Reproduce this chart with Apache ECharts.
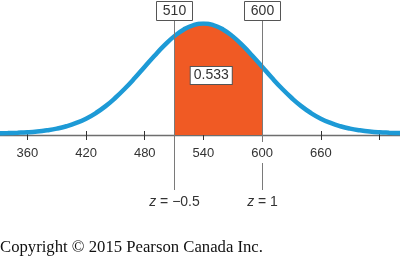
<!DOCTYPE html>
<html>
<head>
<meta charset="utf-8">
<script src="https://cdn.jsdelivr.net/npm/echarts@6/dist/echarts.min.js"></script>
<style>
html,body{margin:0;padding:0;background:#fff;}
#chart{width:400px;height:258px;}
</style>
</head>
<body>
<div id="chart"></div>
<script>
// x values (scores) and relative curve heights
const scores = [300,310,320,330,340,350,360,370,380,390,400,410,420,430,440,450,460,470,480,490,500,510,520,530,540,
                550,560,570,580,590,600,610,620,630,640,650,660,670,680,690,700,710,720,730,740,750,760,770,780];
const heights = [0.000,0.001,0.001,0.002,0.004,0.007,0.011,0.018,0.029,0.044,0.066,0.096,0.135,0.186,0.249,0.325,0.411,0.506,0.607,0.707,0.801,0.883,0.946,0.986,1.000,
                 0.986,0.946,0.883,0.801,0.707,0.607,0.506,0.411,0.325,0.249,0.186,0.135,0.096,0.066,0.044,0.029,0.018,0.011,0.007,0.004,0.002,0.001,0.001,0.000];
const tickValues = [360, 420, 480, 540, 600, 660, 720];
const tickLabels = ['360','420','480','540','600','660'];
const cutScores = [510, 600];
const cutLabels = ['510', '600'];
const zLabels = ['\u22120.5', '1'];
const areaLabel = '0.533';
const areaLabelAt = [548, 0.527];

const curve = scores.map((s, i) => [s, heights[i]]);
const shaded = curve.filter(p => p[0] >= cutScores[0] && p[0] <= cutScores[1]);

const FONT = '"Liberation Sans", Arial, sans-serif';
const chart = echarts.init(document.getElementById('chart'), null, {renderer: 'canvas'});

function renderCut(params, api) {
  const v = api.value(0);
  const x = Math.round(api.coord([v, 0])[0]) + 0.5;
  const idx = params.dataIndex;
  const onTick = tickLabels.indexOf(String(v)) >= 0;
  const lineStyle = {stroke: '#7a7a7a', lineWidth: 1};
  const children = [];
  if (onTick) {
    children.push({type: 'line', shape: {x1: x, y1: 20, x2: x, y2: 142}, style: lineStyle});
    children.push({type: 'line', shape: {x1: x, y1: 163, x2: x, y2: 190}, style: lineStyle});
  } else {
    children.push({type: 'line', shape: {x1: x, y1: 20, x2: x, y2: 190}, style: lineStyle});
  }
  children.push({type: 'rect', shape: {x: x - 18, y: 1.5, width: 36, height: 19},
    style: {fill: '#fff', stroke: '#555', lineWidth: 1}});
  children.push({type: 'text', x: x, y: 11.5, style: {text: cutLabels[idx], font: '14px ' + FONT,
    fill: '#333', align: 'center', verticalAlign: 'middle'}});
  children.push({type: 'text', x: x, y: 202, style: {
    text: '{i|z} = ' + zLabels[idx],
    align: 'center', verticalAlign: 'middle',
    rich: {i: {fontStyle: 'italic', fontSize: 14, fontFamily: FONT, fill: '#333'}},
    font: '14px ' + FONT, fill: '#333'}});
  return {type: 'group', children: children};
}

const axisBase = {type: 'value', min: 332, max: 741, splitLine: {show: false}};
const option = {
  animation: false,
  grid: {left: 0, right: 0, top: 23.5, bottom: 123},
  xAxis: [Object.assign({}, axisBase, {
    axisLine: {onZero: false, lineStyle: {color: '#6e6e6e', width: 1.3}},
    axisTick: {inside: true, length: 4, customValues: tickValues, lineStyle: {color: '#333', width: 1}},
    axisLabel: {margin: 12, color: '#333', fontSize: 13, fontFamily: FONT, customValues: tickValues,
      formatter: v => tickLabels.indexOf(String(v)) >= 0 ? String(v) : ''}
  }), Object.assign({}, axisBase, {
    position: 'bottom',
    axisLine: {show: false, onZero: false},
    axisTick: {inside: false, length: 5, customValues: tickValues, lineStyle: {color: '#333', width: 1}},
    axisLabel: {show: false}
  })],
  yAxis: {type: 'value', min: -0.0136, max: 1, show: false, splitLine: {show: false}},
  series: [{
    type: 'line', data: shaded, smooth: true, symbol: 'none', z: 2,
    lineStyle: {width: 0},
    areaStyle: {color: '#f05a24', opacity: 1, origin: 'start'}
  }, {
    type: 'line', data: curve, smooth: true, symbol: 'none', z: 3,
    lineStyle: {color: '#1d9ad6', width: 4.5}
  }, {
    type: 'custom', coordinateSystem: 'cartesian2d', z: 5, clip: false,
    data: cutScores.map(v => [v, 0]),
    renderItem: renderCut
  }, {
    type: 'scatter', z: 6, symbolSize: 0, itemStyle: {opacity: 1},
    data: [areaLabelAt],
    label: {show: true, position: 'inside', formatter: areaLabel,
      fontSize: 14, fontFamily: FONT, color: '#333', lineHeight: 15,
      backgroundColor: '#fff', borderColor: '#555', borderWidth: 1, padding: [1, 3]},
    emphasis: {disabled: true}
  }],
  graphic: [{
    type: 'text', left: 0, top: 239,
    style: {text: 'Copyright \u00a9 2015 Pearson Canada Inc.', font: '16.7px "Liberation Serif", "Times New Roman", serif', fill: '#111'}
  }]
};
chart.setOption(option);
</script>
</body>
</html>
